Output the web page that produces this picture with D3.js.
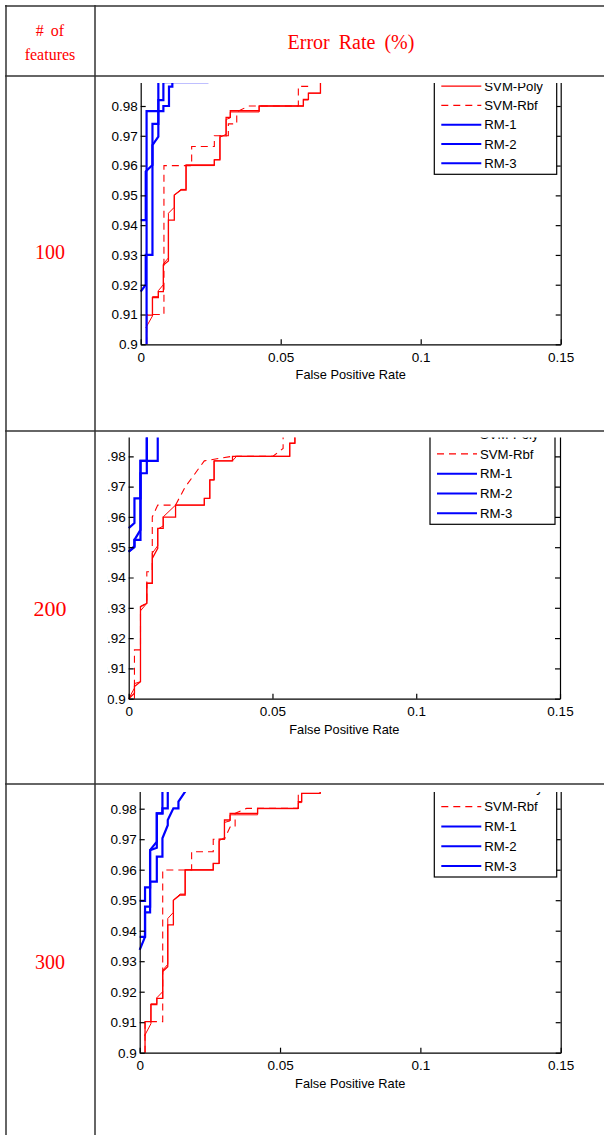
<!DOCTYPE html>
<html>
<head>
<meta charset="utf-8">
<script src="https://cdn.jsdelivr.net/npm/d3@7"></script>
<style>
  body { margin: 0; background: #fff; }
  svg { display: block; }
  .tick text { font-family: "Liberation Sans", Arial, sans-serif; font-size: 13.5px; fill: #000; }
  .tick line, .domain { stroke: #000; stroke-width: 1.2; }
</style>
</head>
<body>
<svg id="chart"></svg>
<script>
// axis ticks and names
var xTicks = [0, 0.05, 0.1, 0.15];
var yTicks = [0.9, 0.91, 0.92, 0.93, 0.94, 0.95, 0.96, 0.97, 0.98];
var featureCounts = ["100", "200", "300"];
var seriesNames = ["SVM-Linear", "SVM-Poly", "SVM-Rbf", "RM-1", "RM-2", "RM-3"];

// ROC points [false positive rate, true positive rate]
// 100 features
var lin100 = [[0.0018,0.9055],[0.0042,0.9095],[0.0042,0.916],[0.0063,0.916],[0.0063,0.918],[0.0081,0.92],[0.0081,0.927],[0.0099,0.929],[0.0099,0.944],[0.012,0.946],[0.012,0.95],[0.0144,0.952],[0.0162,0.952],[0.0162,0.96],[0.0263,0.96],[0.0263,0.962],[0.0283,0.962],[0.0283,0.9695],[0.0305,0.9705],[0.0305,0.9755],[0.032,0.976],[0.032,0.978],[0.0423,0.978],[0.0423,0.98],[0.0581,0.98],[0.0581,0.982],[0.0599,0.982],[0.0599,0.9843],[0.0642,0.9843],[0.0642,0.99]];
var poly100 = [[0.0021,0.9],[0.0021,0.9098],[0.0042,0.9098],[0.0042,0.9157],[0.0063,0.9157],[0.0063,0.9177],[0.0081,0.9177],[0.0081,0.9266],[0.0099,0.928],[0.0099,0.9417],[0.012,0.9417],[0.012,0.9501],[0.0144,0.9518],[0.0162,0.9518],[0.0162,0.9602],[0.0263,0.9602],[0.0263,0.9619],[0.0283,0.9619],[0.0283,0.97],[0.0305,0.97],[0.0305,0.9762],[0.032,0.9762],[0.032,0.9784],[0.0423,0.9784],[0.0423,0.98],[0.0581,0.98],[0.0581,0.9822],[0.0599,0.9822],[0.0599,0.9843],[0.0642,0.9843],[0.0642,0.99]];
var rbf100 = [[0.0021,0.9],[0.0021,0.91],[0.0083,0.91],[0.0083,0.96],[0.0182,0.96],[0.0182,0.9664],[0.0263,0.9664],[0.0263,0.97],[0.0313,0.97],[0.0313,0.974],[0.0343,0.974],[0.0343,0.978],[0.0385,0.98],[0.0563,0.98],[0.0563,0.9866],[0.0599,0.9866],[0.0599,0.99]];
var rm1_100 = [[0,0.9177],[0.0018,0.92],[0.0018,0.93],[0.0042,0.93],[0.0042,0.9669],[0.0063,0.9697],[0.0063,0.99]];
var rm2_100 = [[0.0021,0.9],[0.0021,0.9783],[0.0081,0.9783],[0.0081,0.98],[0.0101,0.98],[0.0101,0.9865],[0.0113,0.9865],[0.0113,0.99]];
var rm3_100 = [[0,0.9417],[0.0018,0.9417],[0.0018,0.958],[0.0042,0.9602],[0.0042,0.974],[0.0063,0.974],[0.0063,0.982],[0.0081,0.982],[0.0081,0.988],[0.0242,0.988]];

// 200 features
var lin200 = [[0,0.9],[0.002,0.9035],[0.002,0.905],[0.0041,0.9056],[0.0041,0.929],[0.0063,0.9315],[0.0063,0.9381],[0.0082,0.9381],[0.0082,0.948],[0.0101,0.9505],[0.0101,0.956],[0.012,0.957],[0.012,0.96],[0.0163,0.9639],[0.0263,0.9639],[0.0263,0.9661],[0.0282,0.9661],[0.0282,0.9722],[0.0297,0.9722],[0.0297,0.9785],[0.0361,0.9785],[0.0375,0.98],[0.056,0.98],[0.056,0.9843],[0.0578,0.9843],[0.0578,0.99]];
var poly200 = [[0,0.9],[0.002,0.9018],[0.002,0.904],[0.0041,0.9056],[0.0041,0.9304],[0.0063,0.9315],[0.0063,0.9381],[0.0082,0.9381],[0.0082,0.9463],[0.0101,0.9496],[0.0101,0.9562],[0.012,0.9562],[0.012,0.9599],[0.0163,0.9599],[0.0163,0.9639],[0.0263,0.9639],[0.0263,0.9661],[0.0282,0.9661],[0.0282,0.9722],[0.0297,0.9722],[0.0297,0.9785],[0.0361,0.9785],[0.0361,0.98],[0.056,0.98],[0.056,0.9843],[0.0578,0.9843],[0.0578,0.99]];
var rbf200 = [[0.002,0.9],[0.002,0.9161],[0.0041,0.9161],[0.0041,0.9304],[0.0063,0.9315],[0.0063,0.9419],[0.0082,0.9419],[0.0082,0.96],[0.0101,0.9639],[0.0163,0.9639],[0.0196,0.9698],[0.0263,0.9785],[0.036,0.98],[0.0502,0.98],[0.0537,0.9826],[0.0537,0.99]];
var rm1_200 = [[0,0.9563],[0.002,0.958],[0.002,0.9661],[0.0041,0.9661],[0.0041,0.9785],[0.0101,0.9785],[0.0101,0.99]];
var rm2_200 = [[0,0.9485],[0.002,0.95],[0.002,0.9524],[0.0041,0.9557],[0.0041,0.9744],[0.0063,0.9744],[0.0063,0.99]];
var rm3_200 = [[0,0.9485],[0.002,0.9504],[0.002,0.9524],[0.0041,0.9524],[0.0041,0.9785],[0.0063,0.9785],[0.0063,0.99]];

// 300 features
var lin300 = [[0.0017,0.9055],[0.004,0.9095],[0.004,0.916],[0.0061,0.916],[0.0061,0.918],[0.0082,0.92],[0.0082,0.927],[0.01,0.929],[0.01,0.944],[0.012,0.946],[0.012,0.95],[0.0144,0.952],[0.0162,0.952],[0.0162,0.96],[0.0262,0.96],[0.0262,0.962],[0.0283,0.962],[0.0283,0.9695],[0.0302,0.9705],[0.0302,0.9755],[0.0322,0.976],[0.0322,0.978],[0.042,0.978],[0.042,0.98],[0.0565,0.98],[0.0565,0.982],[0.0577,0.982],[0.0577,0.985],[0.0643,0.985],[0.0643,0.99]];
var poly300 = [[0.0019,0.9],[0.0019,0.9102],[0.004,0.9102],[0.004,0.9158],[0.0061,0.9158],[0.0061,0.9178],[0.0082,0.9178],[0.0082,0.9266],[0.01,0.9282],[0.01,0.9419],[0.012,0.9419],[0.012,0.95],[0.0144,0.9517],[0.0162,0.9517],[0.0162,0.9599],[0.0262,0.9599],[0.0262,0.9621],[0.0283,0.9621],[0.0283,0.97],[0.0302,0.97],[0.0302,0.9763],[0.0322,0.9763],[0.0322,0.9785],[0.042,0.9785],[0.042,0.9801],[0.0565,0.9801],[0.0565,0.9823],[0.0577,0.9823],[0.0577,0.985],[0.0643,0.985],[0.0643,0.99]];
var rbf300 = [[0.0019,0.9],[0.0019,0.9102],[0.0082,0.9102],[0.0082,0.9599],[0.0185,0.9599],[0.0185,0.9659],[0.0262,0.9659],[0.0262,0.97],[0.0302,0.97],[0.0322,0.974],[0.034,0.974],[0.034,0.9785],[0.0381,0.9801],[0.0565,0.9801],[0.0565,0.99]];
var rm1_300 = [[0,0.9337],[0.0019,0.938],[0.0019,0.9479],[0.0037,0.9479],[0.0037,0.9561],[0.0061,0.9561],[0.0061,0.9643],[0.0081,0.9643],[0.0081,0.9703],[0.01,0.9746],[0.01,0.9763],[0.012,0.9801],[0.0138,0.9801],[0.0138,0.9823],[0.0162,0.9856],[0.0162,0.99]];
var rm2_300 = [[0,0.9498],[0.0019,0.9498],[0.0019,0.9542],[0.0037,0.9542],[0.0037,0.9664],[0.0061,0.9692],[0.0061,0.9785],[0.0081,0.9785],[0.0081,0.9801],[0.01,0.9801],[0.01,0.99]];
var rm3_300 = [[0,0.938],[0.0019,0.938],[0.0019,0.946],[0.0037,0.946],[0.0037,0.9664],[0.0061,0.9672],[0.0061,0.9785],[0.0081,0.9785],[0.0081,0.99]];

var svgWidth = 604, svgHeight = 1135;

var svg = d3.select("#chart")
  .attr("width", svgWidth)
  .attr("height", svgHeight);

// table grid
var rowLines = [6, 76, 431, 784];
var colLines = [6, 95];
rowLines.forEach(function(y) {
  svg.append("line").attr("x1", 5).attr("x2", svgWidth).attr("y1", y).attr("y2", y)
    .attr("stroke", "#333").attr("stroke-width", 1.5);
});
colLines.forEach(function(x) {
  svg.append("line").attr("x1", x).attr("x2", x).attr("y1", 5).attr("y2", svgHeight)
    .attr("stroke", "#333").attr("stroke-width", 1.5);
});

// header text
var serif = "'Liberation Serif', 'Times New Roman', serif";
var sans = "'Liberation Sans', Arial, sans-serif";
svg.append("text").attr("x", 50).attr("y", 36).attr("text-anchor", "middle")
  .attr("font-family", serif).attr("font-size", 16).attr("fill", "red")
  .attr("word-spacing", 3).text("# of");
svg.append("text").attr("x", 50).attr("y", 60).attr("text-anchor", "middle")
  .attr("font-family", serif).attr("font-size", 16).attr("fill", "red").text("features");
svg.append("text").attr("x", 351).attr("y", 49).attr("text-anchor", "middle")
  .attr("font-family", serif).attr("font-size", 20).attr("fill", "red")
  .attr("word-spacing", 4).text("Error Rate (%)");

// layout of each panel inside its table cell
var panels = [
  { label: featureCounts[0], labelY: 259, labelSize: 20,
    lines: [lin100, poly100, rbf100, rm1_100, rm2_100, rm3_100],
    x0: 140.7, x1: 560.7, yBottom: 344.3, y98: 106,
    clip: [97, 83, 507, 347], legend: { left: 434.3, right: 556.7, last: 163.3, step: 19.3 } },
  { label: featureCounts[1], labelY: 616, labelSize: 22,
    lines: [lin200, poly200, rbf200, rm1_200, rm2_200, rm3_200],
    x0: 128.7, x1: 560, yBottom: 698.7, y98: 456.3,
    clip: [107.5, 437.5, 497, 346], legend: { left: 430, right: 555, last: 513.3, step: 19.8 } },
  { label: featureCounts[2], labelY: 969, labelSize: 20,
    lines: [lin300, poly300, rbf300, rm1_300, rm2_300, rm3_300],
    x0: 139.7, x1: 560.7, yBottom: 1052.7, y98: 808.7,
    clip: [97, 792, 507, 343], legend: { left: 434.3, right: 556.7, last: 866, step: 19.8 } }
];

var styles = [
  { color: "red", width: 1, dash: null },
  { color: "red", width: 1.3, dash: null },
  { color: "red", width: 1.1, dash: "7,5" },
  { color: "blue", width: 2.2, dash: null },
  { color: "blue", width: 2.2, dash: null },
  { color: "blue", width: 2.2, dash: null }
];

var defs = svg.append("defs");

panels.forEach(function(p, i) {
  // row label in the left column
  svg.append("text").attr("x", 50).attr("y", p.labelY).attr("text-anchor", "middle")
    .attr("font-family", serif).attr("font-size", p.labelSize).attr("fill", "red")
    .text(p.label);

  defs.append("clipPath").attr("id", "clip" + i)
    .append("rect")
    .attr("x", p.clip[0]).attr("y", p.clip[1])
    .attr("width", p.clip[2]).attr("height", p.clip[3]);

  var g = svg.append("g").attr("clip-path", "url(#clip" + i + ")");

  var x = d3.scaleLinear().domain([0, 0.15]).range([p.x0, p.x1]);
  // axis box goes past the visible top; the cell crops it
  var perUnit = (p.yBottom - p.y98) / 0.08;
  var y = d3.scaleLinear().domain([0.9, 1.0]).range([p.yBottom, p.yBottom - 0.1 * perUnit]);

  var line = d3.line().x(function(d) { return x(d[0]); }).y(function(d) { return y(d[1]); });

  // curves
  p.lines.forEach(function(pts, k) {
    var s = styles[k];
    g.append("path")
      .datum(pts)
      .attr("d", line)
      .attr("fill", "none")
      .attr("stroke", s.color)
      .attr("stroke-width", s.width)
      .attr("stroke-dasharray", s.dash);
  });

  // axes
  g.append("g")
    .attr("transform", "translate(0," + p.yBottom + ")")
    .call(d3.axisBottom(x).tickValues(xTicks).tickSizeInner(-5).tickSizeOuter(0).tickPadding(8)
      .tickFormat(function(d) { return d === 0 ? "0" : String(+d.toFixed(2)); }));

  g.append("g")
    .attr("transform", "translate(" + p.x0 + ",0)")
    .call(d3.axisLeft(y).tickValues(yTicks).tickSizeInner(-5).tickSizeOuter(0).tickPadding(3)
      .tickFormat(function(d) { return String(+d.toFixed(2)); }));

  g.append("g")
    .attr("transform", "translate(" + p.x1 + ",0)")
    .call(d3.axisRight(y).tickValues(yTicks).tickSizeInner(-5).tickSizeOuter(0).tickFormat(""));

  g.append("text")
    .attr("x", (p.x0 + p.x1) / 2)
    .attr("y", p.yBottom + 35)
    .attr("text-anchor", "middle")
    .attr("font-family", sans)
    .attr("font-size", 12.8)
    .text("False Positive Rate");

  // legend
  var L = p.legend;
  var legTop = L.last - 5 * L.step - 12;
  var leg = g.append("g");
  leg.append("rect")
    .attr("x", L.left).attr("y", legTop)
    .attr("width", L.right - L.left).attr("height", L.last + 11 - legTop)
    .attr("fill", "#fff").attr("stroke", "#000").attr("stroke-width", 1.2);

  seriesNames.forEach(function(name, k) {
    var s = styles[k];
    var ly = L.last - (5 - k) * L.step;
    leg.append("line")
      .attr("x1", L.left + 7).attr("x2", L.left + 47)
      .attr("y1", ly).attr("y2", ly)
      .attr("stroke", s.color)
      .attr("stroke-width", k >= 3 ? 2 : 1.2)
      .attr("stroke-dasharray", s.dash);
    leg.append("text")
      .attr("x", L.left + 50).attr("y", ly).attr("dy", "0.36em")
      .attr("font-family", sans)
      .attr("font-size", 13.2)
      .text(name);
  });
});
</script>
</body>
</html>
